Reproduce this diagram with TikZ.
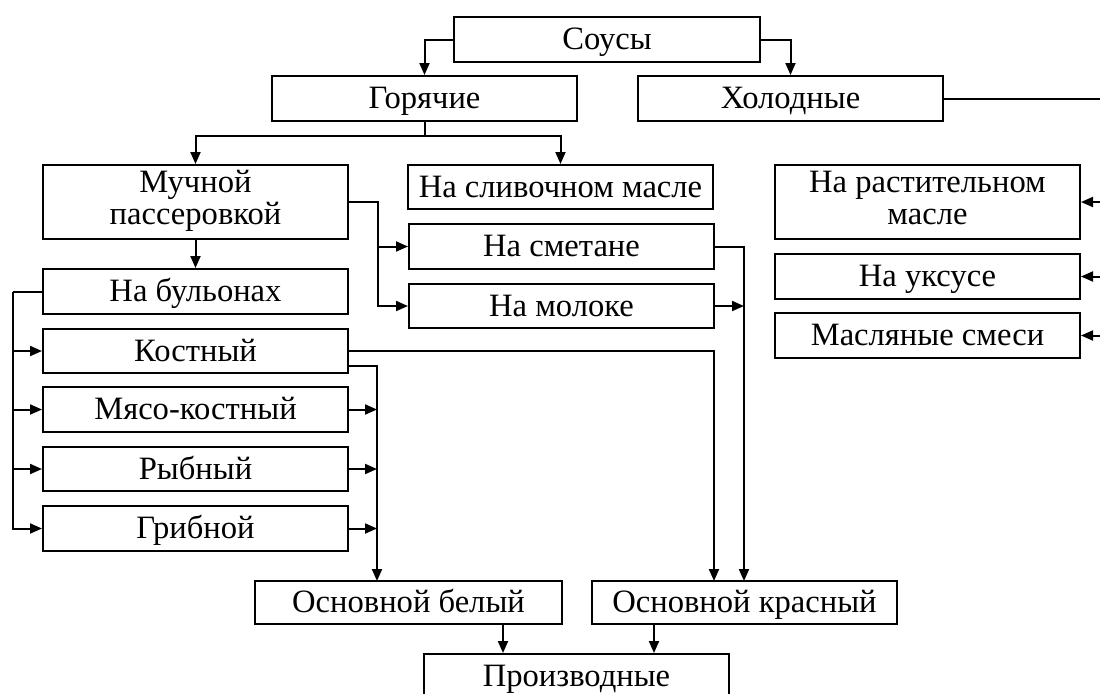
\documentclass[tikz,border=0pt]{standalone}
\usepackage{fontspec}
\setmainfont{Liberation Serif}
\usetikzlibrary{arrows.meta}
\begin{document}
\begin{tikzpicture}[x=0.5pt,y=-0.5pt,
  box/.style={draw, line width=1pt, inner sep=0pt, minimum width=152.5pt, minimum height=22.5pt,
    font=\fontsize{16.3}{16}\selectfont, text height=11.5pt, text depth=1.5pt},
  boxtwo/.style={draw, line width=1pt, inner sep=0pt, minimum width=152.5pt, minimum height=37pt,
    font=\fontsize{16.3}{16}\selectfont, align=center},
  arr/.style={line width=1pt, -{Triangle[length=6pt,width=5pt]}},
  ln/.style={line width=1pt}]
\useasboundingbox (0,0) rectangle (1100,693);
\clip (0,0) rectangle (1100,693);
% nodes
\node[box, minimum width=153pt] (sousy) at (607,39.5) {Соусы};
\node[box] (hot) at (424.5,98.5) {Горячие};
\node[box] (cold) at (790.5,98.5) {Холодные};
\node[boxtwo] (muk) at (195.5,202) {\strut Мучной\\\strut пассеровкой};
\node[box, minimum height=22pt] (sliv) at (560.5,187) {На сливочном масле};
\node[box] (smet) at (561.5,246.5) {На сметане};
\node[box, minimum height=22pt] (moloko) at (561.5,306) {На молоке};
\node[boxtwo] (rast) at (927.5,202) {\strut На растительном\\\strut масле};
\node[box] (uksus) at (927.5,276.5) {На уксусе};
\node[box] (masl) at (927.5,335.5) {Масляные смеси};
\node[box] (bul) at (195.5,291.5) {На бульонах};
\node[box, minimum height=22pt] (kost) at (195.5,351) {Костный};
\node[box] (myaso) at (195.5,409.5) {Мясо-костный};
\node[box, minimum height=22pt] (ryb) at (195.5,469) {Рыбный};
\node[box] (grib) at (195.5,528.5) {Грибной};
\node[box, minimum width=153.5pt, minimum height=21.5pt] (bel) at (408.5,602.5) {Основной белый};
\node[box, minimum height=21.5pt] (kras) at (744.5,602.5) {Основной красный};
\node[box] (proizv) at (576.5,676.5) {Производные};
% helper coordinates
\coordinate (hj) at (424.5,136);
\coordinate (mj) at (378,202);
\coordinate (lj) at (13,291.5);
\coordinate (wbus) at (377,581);
\coordinate (kbus) at (714,581);
\coordinate (rbus) at (744,581);
\coordinate (redge) at (1100,0);
% connectors
\draw[arr] (sousy.west) -| (hot.north);
\draw[arr] (sousy.east) -| (cold.north);
\draw[ln] (hot.south) -- (hj);
\draw[arr] (hj) -| (muk.north);
\draw[arr] (hj) -| (sliv.north);
\draw[arr] (muk.east) -- (mj) |- (smet.west);
\draw[arr] (mj) |- (moloko.west);
\draw[arr] (muk.south) -- (bul.north);
\draw[ln] (bul.west) -- (lj);
\draw[arr] (lj) |- (kost.west);
\draw[arr] (lj) |- (myaso.west);
\draw[arr] (lj) |- (ryb.west);
\draw[arr] (lj) |- (grib.west);
\draw[arr] (kost.east) -| (kbus);
\draw[arr] ([yshift=-7.5pt]kost.east) -| (wbus);
\draw[arr] (myaso.east) -- (wbus |- myaso.east);
\draw[arr] (ryb.east) -- (wbus |- ryb.east);
\draw[arr] (grib.east) -- (wbus |- grib.east);
\draw[arr] (smet.east) -| (rbus);
\draw[arr] (moloko.east) -- (rbus |- moloko.east);
\draw[arr] ([xshift=47.25pt]bel.south) -- ([xshift=47.25pt]bel.south |- proizv.north);
\draw[arr] ([xshift=-45.25pt]kras.south) -- ([xshift=-45.25pt]kras.south |- proizv.north);
\draw[ln] (cold.east) -- (cold.east -| redge);
\draw[arr] (rast.east -| redge) -- (rast.east);
\draw[arr] (uksus.east -| redge) -- (uksus.east);
\draw[arr] (masl.east -| redge) -- (masl.east);
\end{tikzpicture}
\end{document}
